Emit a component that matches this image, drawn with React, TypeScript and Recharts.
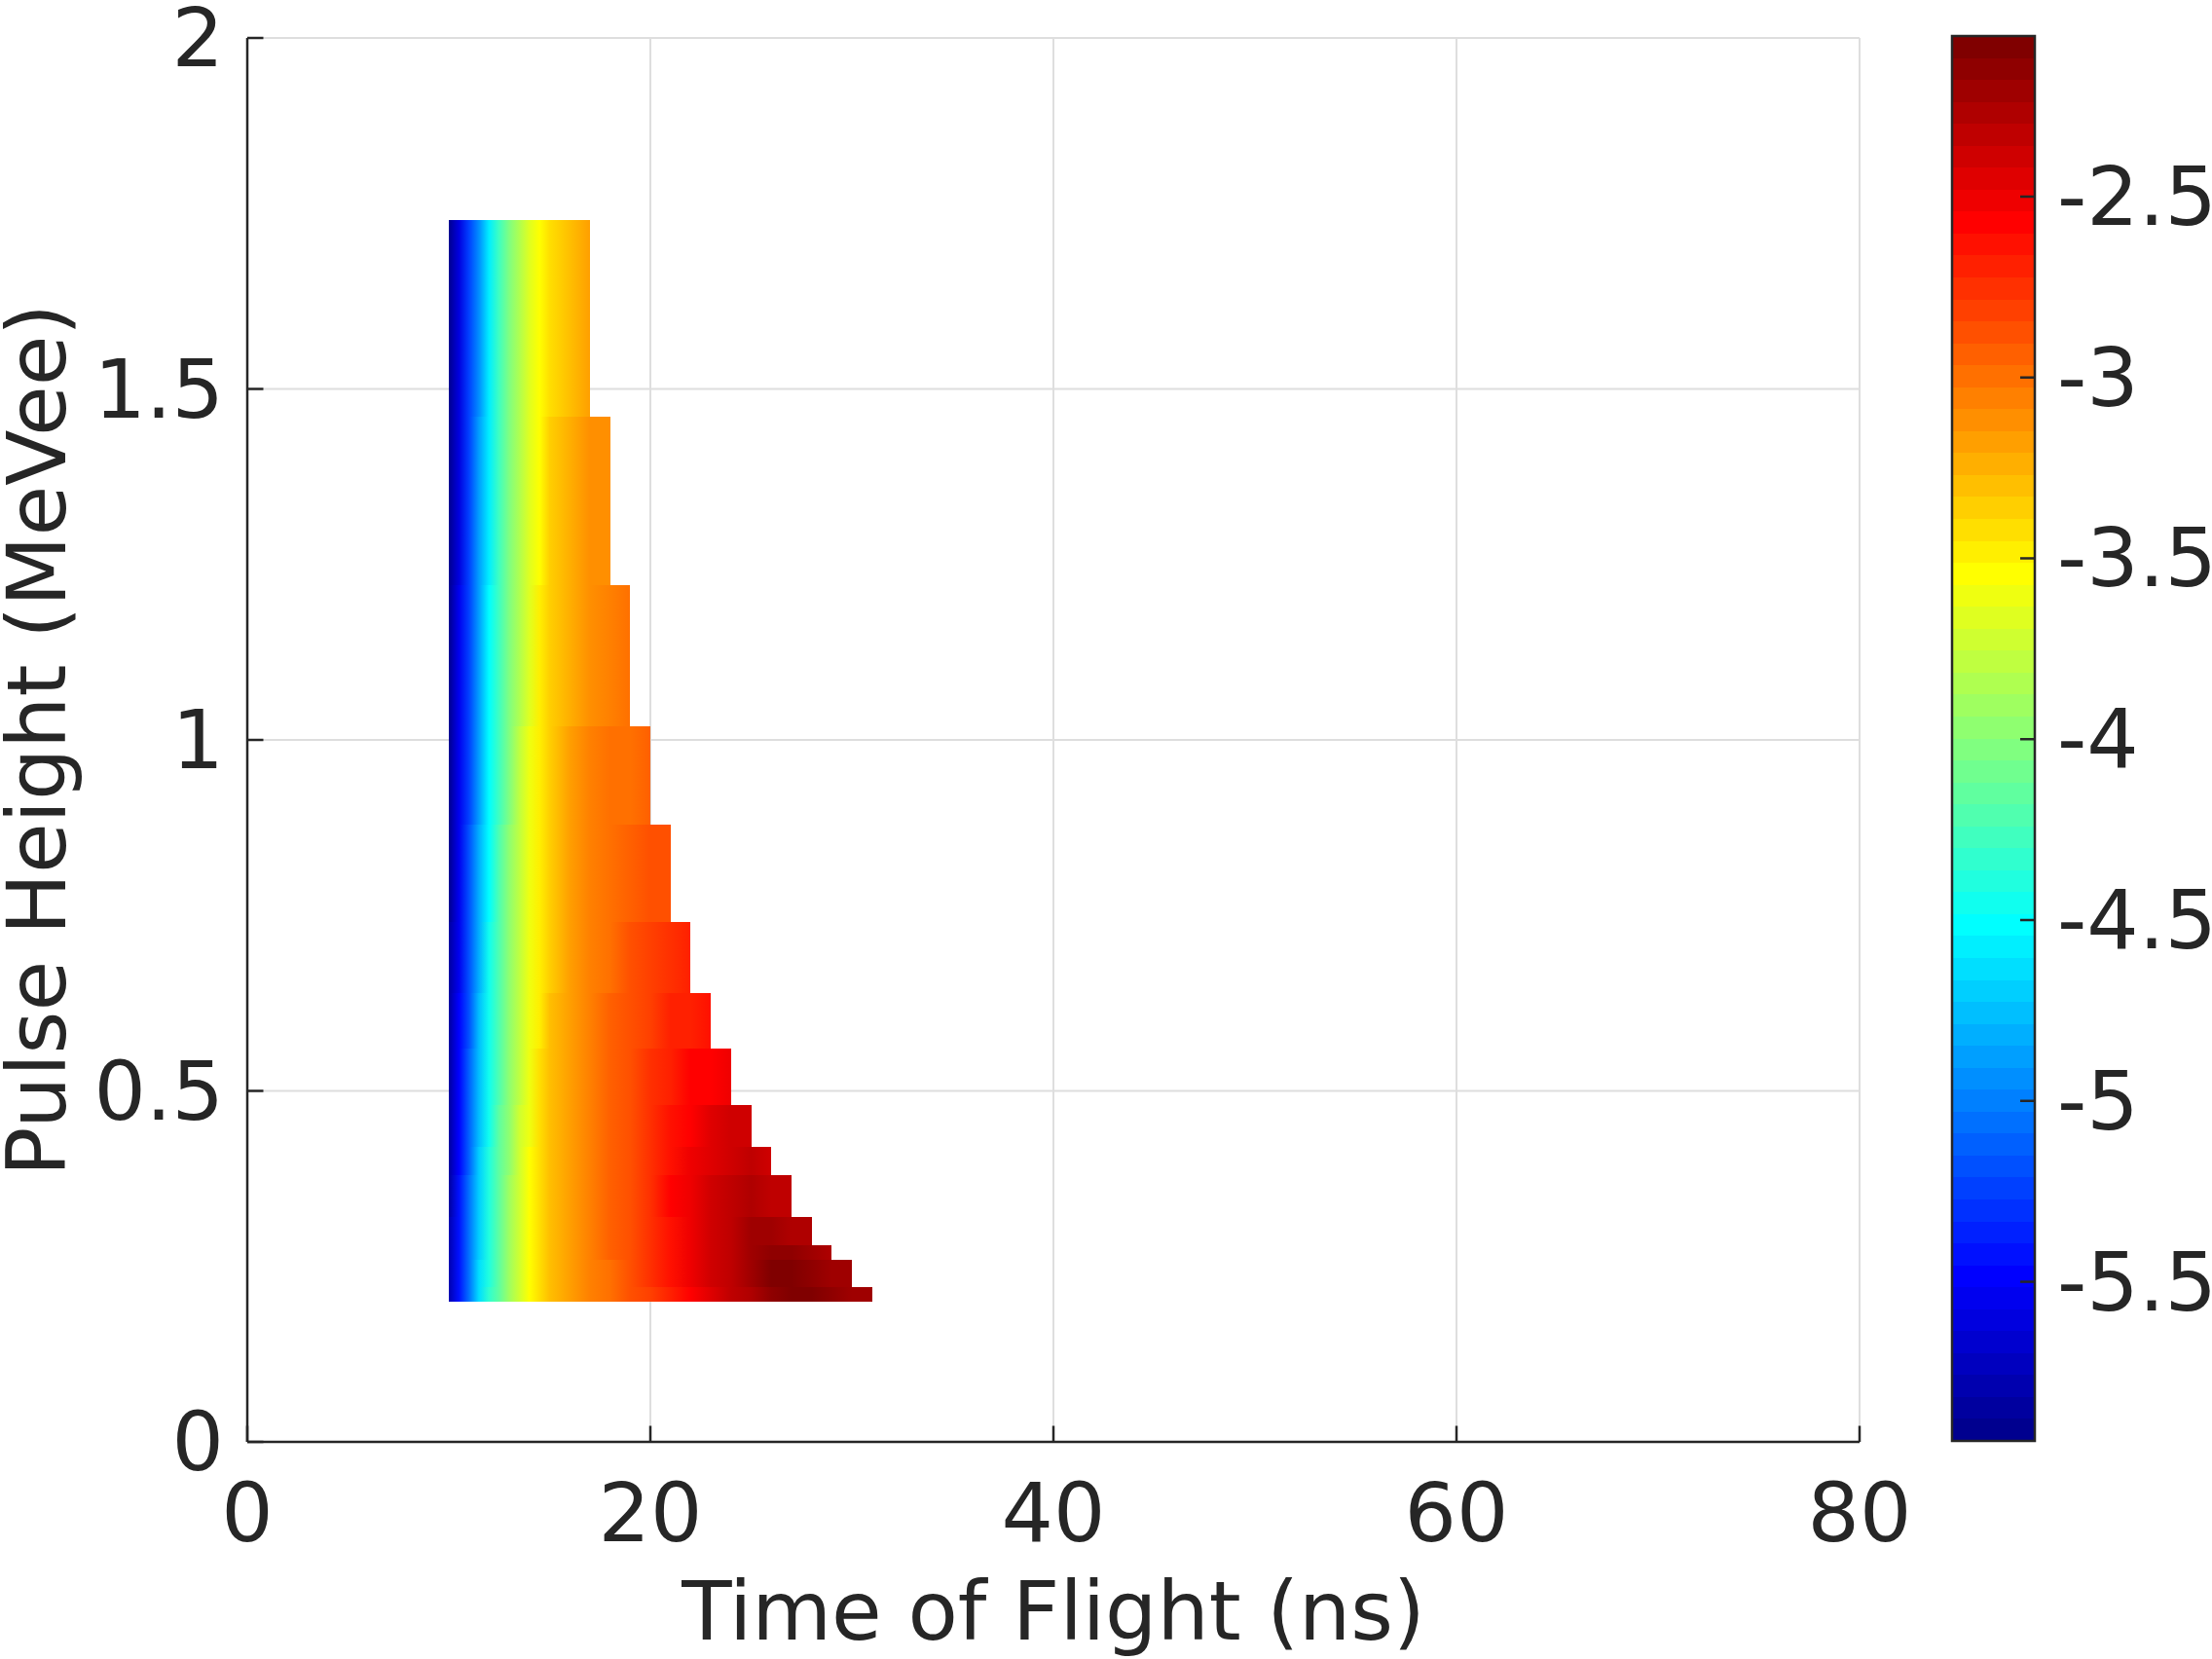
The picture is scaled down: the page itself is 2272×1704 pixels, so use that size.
import React from 'react';
import { ComposedChart, XAxis, YAxis, CartesianGrid, ReferenceArea, Scatter, Label } from 'recharts';

const W = 2272;
const H = 1704;
const FONT = '"DejaVu Sans", "Liberation Sans", sans-serif';
const FS = 84;
const INK = '#262626';
const GRID = '#dedede';

// axis ticks
const tofTicks = [0, 20, 40, 60, 80];
const phTicks = [0, 0.5, 1, 1.5, 2];
const cbTicks = [-5.5, -5, -4.5, -4, -3.5, -3, -2.5];
const cbRange = [-5.94, -2.056];

// sampled time-of-flight positions (ns) along each pulse-height row
const tofSamples = [10, 10.5, 11, 11.5, 12, 12.5, 13, 13.5, 14, 14.5, 15, 16, 17, 18, 19, 20, 21, 22, 23, 24, 25, 26, 27, 28, 29, 30, 31];

// pulse-height rows (MeVee) and the last TOF bin edge of each row
const rowLow = [0.2, 0.22, 0.26, 0.28, 0.32, 0.38, 0.42, 0.48, 0.56, 0.64, 0.74, 0.88, 1.02, 1.22, 1.46];
const rowHigh = [0.22, 0.26, 0.28, 0.32, 0.38, 0.42, 0.48, 0.56, 0.64, 0.74, 0.88, 1.02, 1.22, 1.46, 1.74];
const rowEnd = [31, 30, 29, 28, 27, 26, 25, 24, 23, 22, 21, 20, 19, 18, 17];

// log-intensity values read along each row at tofSamples
const row0 = [-5.8, -5.42, -5.03, -4.65, -4.36, -4.12, -3.9, -3.7, -3.54, -3.41, -3.29, -3.16, -3.05, -2.97, -2.9, -2.8, -2.68, -2.55, -2.44, -2.35, -2.24, -2.14, -2.07, -2.1, -2.16, -2.2, -2.22];
const row1 = [-5.8, -5.42, -5.04, -4.66, -4.37, -4.12, -3.9, -3.71, -3.54, -3.41, -3.29, -3.16, -3.05, -2.97, -2.89, -2.78, -2.66, -2.53, -2.42, -2.32, -2.2, -2.1, -2.07, -2.12, -2.18, -2.2];
const row2 = [-5.8, -5.43, -5.05, -4.67, -4.38, -4.13, -3.91, -3.71, -3.55, -3.41, -3.29, -3.16, -3.05, -2.96, -2.88, -2.76, -2.64, -2.52, -2.42, -2.3, -2.2, -2.12, -2.14, -2.2, -2.24];
const row3 = [-5.81, -5.44, -5.06, -4.68, -4.39, -4.14, -3.92, -3.72, -3.55, -3.42, -3.3, -3.16, -3.05, -2.96, -2.87, -2.75, -2.62, -2.5, -2.4, -2.3, -2.22, -2.2, -2.24, -2.28];
const row4 = [-5.82, -5.45, -5.08, -4.7, -4.4, -4.15, -3.93, -3.73, -3.56, -3.42, -3.3, -3.16, -3.05, -2.95, -2.86, -2.74, -2.6, -2.5, -2.4, -2.32, -2.28, -2.3, -2.33];
const row5 = [-5.83, -5.46, -5.1, -4.72, -4.42, -4.16, -3.94, -3.74, -3.57, -3.43, -3.31, -3.16, -3.05, -2.95, -2.86, -2.75, -2.62, -2.52, -2.43, -2.36, -2.35, -2.36];
const row6 = [-5.84, -5.47, -5.12, -4.74, -4.43, -4.17, -3.95, -3.75, -3.58, -3.44, -3.32, -3.17, -3.05, -2.95, -2.86, -2.76, -2.64, -2.55, -2.47, -2.42, -2.4];
const row7 = [-5.85, -5.49, -5.14, -4.76, -4.45, -4.19, -3.96, -3.76, -3.59, -3.45, -3.33, -3.17, -3.05, -2.95, -2.87, -2.78, -2.68, -2.6, -2.55, -2.5];
const row8 = [-5.86, -5.5, -5.16, -4.78, -4.46, -4.2, -3.97, -3.77, -3.6, -3.46, -3.33, -3.18, -3.05, -2.96, -2.88, -2.8, -2.72, -2.68, -2.62];
const row9 = [-5.87, -5.52, -5.18, -4.8, -4.48, -4.21, -3.98, -3.78, -3.61, -3.47, -3.34, -3.18, -3.06, -2.97, -2.9, -2.84, -2.76, -2.72];
const row10 = [-5.88, -5.53, -5.2, -4.83, -4.5, -4.23, -3.99, -3.79, -3.62, -3.48, -3.35, -3.19, -3.07, -2.98, -2.92, -2.88, -2.85];
const row11 = [-5.9, -5.55, -5.22, -4.86, -4.52, -4.25, -4.0, -3.8, -3.63, -3.49, -3.36, -3.2, -3.08, -3.0, -2.97, -2.95];
const row12 = [-5.9, -5.56, -5.24, -4.88, -4.54, -4.26, -4.02, -3.82, -3.65, -3.5, -3.37, -3.22, -3.1, -3.05, -3.0];
const row13 = [-5.92, -5.58, -5.26, -4.9, -4.56, -4.28, -4.04, -3.84, -3.67, -3.52, -3.39, -3.25, -3.14, -3.1];
const row14 = [-5.92, -5.58, -5.27, -4.92, -4.58, -4.3, -4.05, -3.85, -3.68, -3.53, -3.4, -3.27, -3.2];

const rowValues = [row0, row1, row2, row3, row4, row5, row6, row7, row8, row9, row10, row11, row12, row13, row14];

// MATLAB jet(64)
function jet64(i: number): string {
  const row = i + 1;
  let r = 0;
  let g = 0;
  let b = 0;
  if (row >= 25 && row <= 40) r = (row - 24) / 16;
  else if (row >= 41 && row <= 55) r = 1;
  else if (row >= 56) r = (72 - row) / 16;
  if (row >= 9 && row <= 24) g = (row - 8) / 16;
  else if (row >= 25 && row <= 39) g = 1;
  else if (row >= 40 && row <= 55) g = (56 - row) / 16;
  if (row <= 8) b = (row + 8) / 16;
  else if (row <= 23) b = 1;
  else if (row <= 39) b = (40 - row) / 16;
  const c = (v: number) => Math.round(Math.max(0, Math.min(1, v)) * 255);
  return `rgb(${c(r)},${c(g)},${c(b)})`;
}

function colorOf(v: number): string {
  const t = (v - cbRange[0]) / (cbRange[1] - cbRange[0]);
  const i = Math.max(0, Math.min(63, Math.floor(t * 64)));
  return jet64(i);
}

const bandEdges = Array.from({ length: 65 }, (_, i) => cbRange[0] + ((cbRange[1] - cbRange[0]) * i) / 64);

const TICK_LEN = 16.5;

const XTick = (props: any) => {
  const { x, y, payload } = props;
  return (
    <g>
      <line x1={x} y1={y} x2={x} y2={y - TICK_LEN} stroke={INK} strokeWidth={2.5} />
      <text x={x} y={y + 102} textAnchor="middle" fontSize={FS} fontFamily={FONT} fill={INK}>
        {String(payload.value)}
      </text>
    </g>
  );
};

const YTick = (props: any) => {
  const { x, y, payload } = props;
  return (
    <g>
      <line x1={x} y1={y} x2={x + TICK_LEN} y2={y} stroke={INK} strokeWidth={2.5} />
      <text x={x - 24} y={y + 29} textAnchor="end" fontSize={FS} fontFamily={FONT} fill={INK}>
        {String(payload.value)}
      </text>
    </g>
  );
};

const CbTick = (props: any) => {
  const { x, y, payload } = props;
  return (
    <g>
      <line x1={x} y1={y} x2={x - 15} y2={y} stroke={INK} strokeWidth={2.5} />
      <text x={x + 23} y={y + 29} textAnchor="start" fontSize={FS} fontFamily={FONT} fill={INK}>
        {String(payload.value)}
      </text>
    </g>
  );
};

const XTitle = (props: any) => {
  const vb = props.viewBox || {};
  const vx = typeof vb.x === 'number' ? vb.x : 254;
  const vw = typeof vb.width === 'number' ? vb.width : 1656;
  const vy = typeof vb.y === 'number' ? vb.y : 1481;
  return (
    <text x={vx + vw / 2} y={vy + 203} textAnchor="middle" fontSize={FS} fontFamily={FONT} fill={INK}>
      Time of Flight (ns)
    </text>
  );
};

const YTitle = (props: any) => {
  const vb = props.viewBox || {};
  const vy = typeof vb.y === 'number' ? vb.y : 39;
  const vh = typeof vb.height === 'number' ? vb.height : 1442;
  const cy = vy + vh / 2;
  const tx = 67;
  return (
    <text x={tx} y={cy} transform={`rotate(-90, ${tx}, ${cy})`} textAnchor="middle" fontSize={FS} fontFamily={FONT} fill={INK}>
      Pulse Height (MeVee)
    </text>
  );
};

const CellShape = (p: any) => (
  <rect x={p.x} y={p.y} width={p.width} height={p.height} fill={p.fill} stroke="none" shapeRendering="crispEdges" />
);

const Empty = () => <g />;

const anchors = rowLow.map((y, i) => ({ x: tofSamples[0], y }));

export default function App() {
  return (
    <div style={{ position: 'absolute', left: 0, top: 0, width: W, height: H, background: '#ffffff' }}>
      <svg width={0} height={0} style={{ position: 'absolute', left: 0, top: 0 }}>
        <defs>
          {rowValues.map((vals, i) => {
            const x0 = tofSamples[0];
            const x1 = rowEnd[i];
            return (
              <linearGradient key={i} id={`tofRow${i}`} x1="0" y1="0" x2="1" y2="0">
                {vals.map((v, j) => (
                  <stop key={j} offset={(tofSamples[j] - x0) / (x1 - x0)} stopColor={colorOf(v)} />
                ))}
              </linearGradient>
            );
          })}
        </defs>
      </svg>

      <div style={{ position: 'absolute', left: 0, top: 0 }}>
        <ComposedChart width={W} height={H} margin={{ top: 39, right: 362, bottom: 0, left: 0 }}>
          <CartesianGrid stroke={GRID} strokeWidth={2} />
          <XAxis
            type="number"
            dataKey="x"
            domain={[0, 80]}
            ticks={tofTicks}
            interval={0}
            tickSize={0}
            tickMargin={0}
            tickLine={false}
            tick={<XTick />}
            axisLine={{ stroke: INK, strokeWidth: 2.5 }}
            height={223}
            allowDataOverflow
          >
            <Label content={XTitle} />
          </XAxis>
          <YAxis
            type="number"
            dataKey="y"
            domain={[0, 2]}
            ticks={phTicks}
            interval={0}
            tickSize={0}
            tickMargin={0}
            tickLine={false}
            tick={<YTick />}
            axisLine={{ stroke: INK, strokeWidth: 2.5 }}
            width={254}
            allowDataOverflow
          >
            <Label content={YTitle} />
          </YAxis>
          {rowValues.map((_, i) => (
            <ReferenceArea
              key={i}
              x1={tofSamples[0]}
              x2={rowEnd[i]}
              y1={rowLow[i]}
              y2={rowHigh[i]}
              fill={`url(#tofRow${i})`}
              fillOpacity={1}
              stroke="none"
              ifOverflow="visible"
              shape={CellShape}
            />
          ))}
          <Scatter data={anchors} shape={Empty} isAnimationActive={false} />
        </ComposedChart>
      </div>

      <div style={{ position: 'absolute', left: 0, top: 0 }}>
        <ComposedChart width={W} height={H} margin={{ top: 37, right: 0, bottom: 224, left: 2005 }}>
          <XAxis type="number" dataKey="x" domain={[0, 1]} hide allowDataOverflow />
          <YAxis
            type="number"
            dataKey="c"
            orientation="right"
            domain={cbRange}
            ticks={cbTicks}
            interval={0}
            tickSize={0}
            tickMargin={0}
            tickLine={false}
            axisLine={false}
            tick={<CbTick />}
            width={182}
            allowDataOverflow
          />
          {bandEdges.slice(0, 64).map((lo, i) => (
            <ReferenceArea
              key={i}
              x1={0}
              x2={1}
              y1={lo}
              y2={bandEdges[i + 1]}
              fill={jet64(i)}
              fillOpacity={1}
              stroke="none"
              ifOverflow="visible"
              shape={CellShape}
            />
          ))}
          <ReferenceArea x1={0} x2={1} y1={cbRange[0]} y2={cbRange[1]} fill="none" fillOpacity={0} stroke={INK} strokeWidth={2.5} ifOverflow="visible" />
          <Scatter data={[{ x: 0.5, c: -4 }]} shape={Empty} isAnimationActive={false} />
        </ComposedChart>
      </div>
    </div>
  );
}
